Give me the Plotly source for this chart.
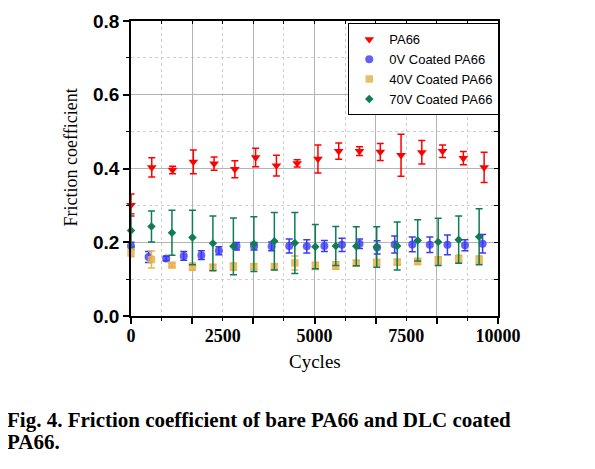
import plotly.graph_objects as go

# ---- data ----
x_pa66 = [0, 566, 1132, 1698, 2264, 2830, 3396, 3962, 4528, 5094, 5660, 6226, 6792, 7358, 7924, 8490, 9056, 9622]
y_pa66 = [0.301, 0.403, 0.396, 0.418, 0.413, 0.398, 0.430, 0.408, 0.414, 0.426, 0.447, 0.447, 0.445, 0.436, 0.444, 0.447, 0.428, 0.403]
e_pa66 = [0.030, 0.026, 0.010, 0.032, 0.018, 0.023, 0.025, 0.028, 0.010, 0.038, 0.022, 0.012, 0.023, 0.057, 0.032, 0.017, 0.018, 0.041]

x_0v = [0, 479, 958, 1437, 1916, 2395, 2874, 3353, 3832, 4311, 4790, 5269, 5748, 6227, 6706, 7185, 7664, 8143, 8622, 9101, 9580]
y_0v = [0.190, 0.160, 0.156, 0.163, 0.165, 0.177, 0.189, 0.189, 0.189, 0.190, 0.189, 0.190, 0.193, 0.196, 0.186, 0.194, 0.194, 0.193, 0.193, 0.192, 0.196]
e_0v = [0.010, 0.015, 0.006, 0.012, 0.012, 0.011, 0.010, 0.010, 0.012, 0.019, 0.018, 0.015, 0.018, 0.013, 0.018, 0.023, 0.020, 0.021, 0.027, 0.015, 0.025]

x_40v = [0, 558, 1116, 1674, 2232, 2790, 3348, 3906, 4464, 5022, 5580, 6138, 6696, 7254, 7812, 8370, 8928, 9486]
y_40v = [0.171, 0.153, 0.138, 0.134, 0.132, 0.134, 0.134, 0.134, 0.144, 0.136, 0.137, 0.143, 0.145, 0.146, 0.148, 0.151, 0.155, 0.153]
e_40v = [0.010, 0.023, 0.005, 0.010, 0.008, 0.010, 0.008, 0.008, 0.019, 0.010, 0.010, 0.008, 0.008, 0.008, 0.008, 0.010, 0.010, 0.010]

x_70v = [0, 558, 1116, 1674, 2232, 2790, 3348, 3906, 4464, 5022, 5580, 6138, 6696, 7254, 7812, 8370, 8928, 9486]
y_70v = [0.232, 0.243, 0.226, 0.213, 0.197, 0.189, 0.195, 0.203, 0.198, 0.188, 0.190, 0.189, 0.187, 0.190, 0.205, 0.201, 0.207, 0.215]
e_70v = [0.045, 0.042, 0.061, 0.074, 0.074, 0.077, 0.074, 0.078, 0.083, 0.060, 0.053, 0.053, 0.055, 0.065, 0.056, 0.064, 0.064, 0.076]

x_max = 10000
y_max = 0.8
x_ticklabels = [0, 2500, 5000, 7500, 10000]
x_minor_step = 10000 / 12
x_major_step = 10000 / 6
caption_1 = "Fig. 4. Friction coefficient of bare PA66 and DLC coated"
caption_2 = "PA66."

# ---- figure ----
fig = go.Figure()

def add_series(x, y, e, name, symbol, color, size, opacity=1.0, xa="x", ya="y"):
    fig.add_trace(go.Scatter(
        x=x, y=y, mode="markers", name=name, cliponaxis=False, xaxis=xa, yaxis=ya,
        marker=dict(symbol=symbol, color=color, size=size, opacity=opacity, line=dict(width=0)),
        error_y=dict(type="data", array=e, visible=True, color=color, thickness=1.5, width=3.5),
    ))

# every axis pair uses identical fixed ranges, so the series overlay exactly
add_series(x_pa66, y_pa66, e_pa66, "PA66", "triangle-down", "#FF0000", 8.5, 1.0, "x", "y")
add_series(x_0v, y_0v, e_0v, "0V Coated PA66", "circle", "#3A3AF2", 8, 0.8, "x2", "y")
add_series(x_40v, y_40v, e_40v, "40V Coated PA66", "square", "#E6B24A", 7.5, 0.85, "x3", "y2")
add_series(x_70v, y_70v, e_70v, "70V Coated PA66", "diamond", "#0E7C55", 6.5, 1.0, "x3", "y2")

axis_font = "Liberation Sans, Arial, sans-serif"
serif = "Liberation Serif, Times New Roman, serif"

# page body has an 8px default margin -> shift the layout up/left by 8px
L, T, PW, PH = 123, 12.7, 367, 295.8
fig.update_layout(
    width=595, height=469,
    margin=dict(l=L, r=595 - L - PW, t=T, b=469 - T - PH, pad=0, autoexpand=False),
    paper_bgcolor="white", plot_bgcolor="white",
    showlegend=True,
    legend=dict(
        x=0.592, y=0.992, xanchor="left", yanchor="top",
        bordercolor="black", borderwidth=1, bgcolor="white",
        font=dict(family=axis_font, size=13, color="black"),
        itemwidth=30, tracegroupgap=0,
    ),
    # primary x: major/minor ticks and the solid/dotted vertical grid
    xaxis=dict(
        range=[0, x_max], tick0=0, dtick=x_major_step,
        ticks="outside", ticklen=6, tickwidth=1.5, tickcolor="black",
        showticklabels=False,
        showline=True, linecolor="black", linewidth=1.5,
        showgrid=True, gridcolor="#B4B4B4", gridwidth=1.2, griddash="solid",
        zeroline=False, automargin=False,
        minor=dict(dtick=x_minor_step, tick0=0, ticks="outside", ticklen=3, tickwidth=1.2, tickcolor="black",
                   showgrid=True, gridcolor="#CFCFCF", griddash="dot", gridwidth=1),
    ),
    # overlay x: only the tick labels
    xaxis2=dict(
        overlaying="x", anchor="y", side="bottom", range=[0, x_max],
        tickmode="array", tickvals=x_ticklabels, ticktext=[str(v) for v in x_ticklabels],
        ticks="", showline=False, showgrid=False, zeroline=False, automargin=False,
        tickfont=dict(family=serif, size=18, color="black", weight="bold"),
        ticklabelstandoff=7,
    ),
    xaxis3=dict(
        overlaying="x", anchor="y2", side="top", range=[0, x_max],
        tick0=0, dtick=x_minor_step, ticks="inside", ticklen=3, tickwidth=1.2, tickcolor="black",
        showticklabels=False, showline=True, linecolor="black", linewidth=1.5,
        showgrid=False, zeroline=False,
    ),
    yaxis=dict(
        range=[0, y_max], tick0=0, dtick=0.2, tickformat=".1f",
        ticks="outside", ticklen=6, tickwidth=1.5, tickcolor="black",
        showline=True, linecolor="black", linewidth=1.5,
        showgrid=True, gridcolor="#B4B4B4", gridwidth=1.2, zeroline=False,
        tickfont=dict(family=axis_font, size=19, color="black", weight="bold"),
        ticklabelstandoff=0, automargin=False,
        minor=dict(dtick=0.1, tick0=0, ticks="outside", ticklen=3, tickwidth=1.2, tickcolor="black",
                   showgrid=True, gridcolor="#CFCFCF", griddash="dot", gridwidth=1),
    ),
    yaxis2=dict(
        overlaying="y", anchor="x3", side="right", range=[0, y_max],
        tick0=0, dtick=0.1, ticks="inside", ticklen=4, tickwidth=1.2, tickcolor="black",
        showticklabels=False, showline=True, linecolor="black", linewidth=1.5,
        showgrid=False, zeroline=False,
    ),
)

def px_to_paper_x(px):
    return (px - 8 - L) / PW

def px_to_paper_y(py):
    return (T + PH - (py - 8)) / PH

fig.add_annotation(text="Friction coefficient", xref="paper", yref="paper",
                   x=px_to_paper_x(71), y=px_to_paper_y(157.5), xanchor="center", yanchor="middle", textangle=-90,
                   showarrow=False, font=dict(family=serif, size=18, color="black"))
fig.add_annotation(text="Cycles", xref="paper", yref="paper",
                   x=0.5, y=px_to_paper_y(362), xanchor="center", yanchor="middle",
                   showarrow=False, font=dict(family=serif, size=19, color="black"))
fig.add_annotation(text="<b>" + caption_1 + "</b>", xref="paper", yref="paper",
                   x=px_to_paper_x(5), y=px_to_paper_y(421), xanchor="left", yanchor="middle",
                   showarrow=False, font=dict(family=serif, size=21, color="black"))
fig.add_annotation(text="<b>" + caption_2 + "</b>", xref="paper", yref="paper",
                   x=px_to_paper_x(5), y=px_to_paper_y(443), xanchor="left", yanchor="middle",
                   showarrow=False, font=dict(family=serif, size=21, color="black"))

fig.write_html("out.html")
